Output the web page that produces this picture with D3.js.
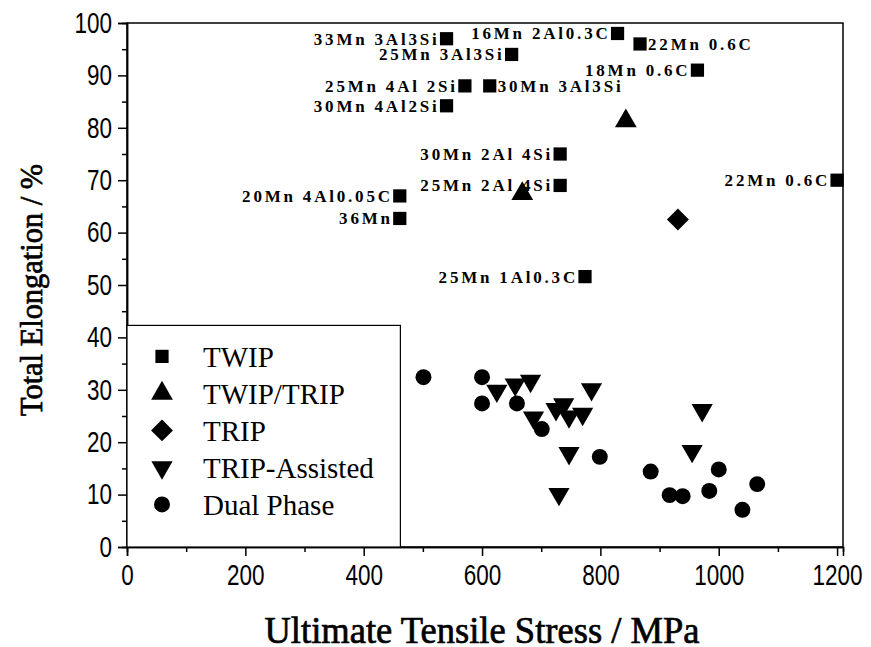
<!DOCTYPE html>
<html>
<head>
<meta charset="utf-8">
<script src="https://cdn.jsdelivr.net/npm/d3@7"></script>
<style>
  body { margin: 0; background: #fff; }
  svg { display: block; }
  .tick text { font-family: "Liberation Sans", Arial, sans-serif; font-size: 29px; fill: #000; }
  .domain, .tick line { stroke: #000; stroke-width: 1.5px; }
  .note { font-family: "Liberation Serif", "Times New Roman", serif; font-size: 17px; letter-spacing: 2.8px; font-weight: 600; }
  .legend text { font-family: "Liberation Serif", "Times New Roman", serif; font-size: 29px; }
  .title { font-family: "Liberation Serif", "Times New Roman", serif; stroke: #000; stroke-width: 0.7px; }
</style>
</head>
<body>
<div id="chart"></div>
<script>
// TWIP alloys, with their composition labels
var twipStress = [540, 829, 867, 650, 964, 571, 613, 540, 732, 732, 1200, 461, 461, 774];
var twipElong  = [97, 98, 96, 94, 91, 88, 88, 84.2, 75, 69, 70, 67, 62.7, 51.6];
var twipNames  = ["33Mn 3Al3Si", "16Mn 2Al0.3C", "22Mn 0.6C", "25Mn 3Al3Si", "18Mn 0.6C",
                  "25Mn 4Al 2Si", "30Mn 3Al3Si", "30Mn 4Al2Si", "30Mn 2Al 4Si", "25Mn 2Al 4Si",
                  "22Mn 0.6C", "20Mn 4Al0.05C", "36Mn", "25Mn 1Al0.3C"];
// labels written to the right of their marker (indexes into twip arrays)
var rightLabels = [2, 6];

var twipTripStress = [843, 668];
var twipTripElong  = [81.3, 67.4];

var tripStress = [931];
var tripElong  = [62.5];

var assistStress = [625, 656, 682, 687, 725, 738, 747, 770, 785, 747, 730, 972, 955];
var assistElong  = [29.8, 31, 31.7, 24.7, 26.3, 27.2, 24.9, 25.4, 30.1, 17.9, 10.1, 26.1, 18.3];

var dualStress = [501, 600, 600, 659, 701, 799, 885, 917, 939, 984, 1000, 1040, 1065];
var dualElong  = [32.4, 32.4, 27.4, 27.4, 22.5, 17.2, 14.4, 9.9, 9.7, 10.7, 14.8, 7.1, 12.0];

var seriesNames = ["TWIP", "TWIP/TRIP", "TRIP", "TRIP-Assisted", "Dual Phase"];

var xMajor = [0, 200, 400, 600, 800, 1000, 1200];
var xMinor = [100, 300, 500, 700, 900, 1100];
var yMajor = [0, 10, 20, 30, 40, 50, 60, 70, 80, 90, 100];
var yMinor = [5, 15, 25, 35, 45, 55, 65, 75, 85, 95];

var svgWidth = 871;
var svgHeight = 647;
var margin = { top: 23, right: 28, bottom: 100, left: 127 };
var width = svgWidth - margin.left - margin.right;
var height = svgHeight - margin.top - margin.bottom;

var svg = d3.select("#chart")
  .append("svg")
  .attr("width", svgWidth)
  .attr("height", svgHeight);

var chartGroup = svg.append("g")
  .attr("transform", `translate(${margin.left}, ${margin.top})`);

var x = d3.scaleLinear().domain([0, 1210]).range([0, width]);
var y = d3.scaleLinear().domain([0, 100]).range([height, 0]);

// frame
chartGroup.append("rect")
  .attr("width", width)
  .attr("height", height)
  .attr("fill", "none")
  .attr("stroke", "#000")
  .attr("stroke-width", 1.5);

// axes
var xAxis = chartGroup.append("g")
  .attr("transform", `translate(0, ${height})`)
  .call(d3.axisBottom(x).tickValues(xMajor).tickSize(9).tickPadding(8).tickFormat(d3.format("d")));
chartGroup.append("g")
  .attr("transform", `translate(0, ${height})`)
  .call(d3.axisBottom(x).tickValues(xMinor).tickSize(5).tickFormat(""));

var yAxis = chartGroup.append("g")
  .call(d3.axisLeft(y).tickValues(yMajor).tickSize(9).tickPadding(6).tickFormat(d3.format("d")));
chartGroup.append("g")
  .call(d3.axisLeft(y).tickValues(yMinor).tickSize(5).tickFormat(""));

// narrow tick digits
svg.selectAll(".tick text")
  .attr("textLength", function() { return this.textContent.length * 12.5; })
  .attr("lengthAdjust", "spacingAndGlyphs");

// legend box
var legendTop = y(40) - 12;
chartGroup.append("rect")
  .attr("x", 0)
  .attr("y", legendTop)
  .attr("width", x(462))
  .attr("height", height - legendTop)
  .attr("fill", "#fff")
  .attr("stroke", "#000")
  .attr("stroke-width", 1.2);

// marker shapes
var shapes = [
  d3.symbol().type(d3.symbolSquare).size(175)(),
  d3.symbol().type(d3.symbolTriangle).size(205)(),
  d3.symbol().type(d3.symbolSquare).size(240)(),
  d3.symbol().type(d3.symbolTriangle).size(195)(),
  d3.symbol().type(d3.symbolCircle).size(200)()
];
var rotations = [0, 0, 45, 180, 0];

function drawMarkers(xs, ys, k) {
  chartGroup.append("g")
    .selectAll("path")
    .data(xs.map((v, i) => [v, ys[i]]))
    .enter()
    .append("path")
    .attr("d", shapes[k])
    .attr("fill", "#000")
    .attr("transform", d => `translate(${x(d[0])}, ${y(d[1])}) rotate(${rotations[k]})`);
}

drawMarkers(dualStress, dualElong, 4);
drawMarkers(assistStress, assistElong, 3);
drawMarkers(tripStress, tripElong, 2);
drawMarkers(twipTripStress, twipTripElong, 1);
drawMarkers(twipStress, twipElong, 0);

// composition labels
chartGroup.append("g")
  .selectAll("text")
  .data(twipNames)
  .enter()
  .append("text")
  .attr("class", "note")
  .attr("x", (d, i) => rightLabels.includes(i) ? x(twipStress[i]) + 8 : x(twipStress[i]) - 7)
  .attr("y", (d, i) => y(twipElong[i]))
  .attr("dy", "0.35em")
  .attr("text-anchor", (d, i) => rightLabels.includes(i) ? "start" : "end")
  .text(d => d);

// legend entries
var legend = chartGroup.append("g").attr("class", "legend");
seriesNames.forEach(function(name, k) {
  var ly = legendTop + 31 + k * 37;
  legend.append("path")
    .attr("d", shapes[k])
    .attr("transform", `translate(35, ${ly}) rotate(${rotations[k]})`);
  legend.append("text")
    .attr("x", 76)
    .attr("y", ly)
    .attr("dy", "0.35em")
    .text(name);
});

// axis titles
svg.append("text")
  .attr("class", "title")
  .attr("text-anchor", "middle")
  .attr("font-size", 38)
  .attr("x", 482)
  .attr("y", 643)
  .attr("textLength", 435)
  .attr("lengthAdjust", "spacingAndGlyphs")
  .text("Ultimate Tensile Stress / MPa");

svg.append("text")
  .attr("class", "title")
  .attr("text-anchor", "middle")
  .attr("font-size", 32)
  .attr("transform", "translate(42, 290) rotate(-90)")
  .attr("textLength", 252)
  .attr("lengthAdjust", "spacingAndGlyphs")
  .text("Total Elongation / %");
</script>
</body>
</html>
